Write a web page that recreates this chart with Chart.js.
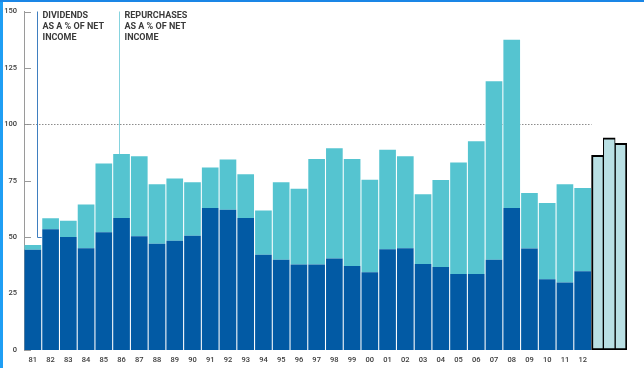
<!DOCTYPE html>
<html>
<head>
<meta charset="utf-8">
<script src="https://cdn.jsdelivr.net/npm/chart.js@4"></script>
<style>
  html, body { margin: 0; padding: 0; background: #fff; }
  #wrap { width: 644px; height: 368px; position: relative; }
</style>
</head>
<body>
<div id="wrap"><canvas id="chart" width="644" height="368"></canvas></div>
<script>
// data
const years = ['81','82','83','84','85','86','87','88','89','90','91','92','93','94','95','96',
  '97','98','99','00','01','02','03','04','05','06','07','08','09','10','11','12'];
const dividends = [44.4, 53.5, 50.1, 45.1, 52.2, 58.5, 50.4, 47.1, 48.4, 50.6, 62.9, 62.2, 58.5, 42.2, 40.0, 37.9,
  37.9, 40.6, 37.2, 34.4, 44.7, 45.1, 38.1, 36.8, 33.7, 33.7, 40.0, 62.9, 45.0, 31.3, 29.9, 34.9];
const repurchases = [2.1, 4.9, 7.2, 19.4, 30.4, 28.3, 35.5, 26.4, 27.6, 23.7, 18.0, 22.2, 19.4, 19.6, 34.3, 33.6,
  46.7, 48.8, 47.4, 41.0, 44.0, 40.8, 30.9, 38.5, 49.4, 58.8, 79.1, 74.6, 24.6, 33.8, 43.5, 36.9];
const forecast = [86.3, 94.0, 91.6];
const yTicks = [0, 25, 50, 75, 100, 125, 150];
const refLine = 100;

const DARK = '#025aa4';
const LIGHT = '#55c4d0';
const TEXT = '#3a3a3a';

// main axis: 32 years + 2 spare slots; fine axis is 1.5x denser, forecast bars sit in its last 3 slots
const mainLabels = years.concat(['', '']);
const fineLabels = Array.from({ length: mainLabels.length * 1.5 }, (_, i) => String(i));
const forecastData = Array(fineLabels.length - forecast.length).fill(null).concat(forecast);

const decorations = {
  id: 'decorations',
  beforeDraw(chart) {
    const { ctx, width, height } = chart;
    ctx.save();
    ctx.fillStyle = '#fff';
    ctx.fillRect(0, 0, width, height);
    ctx.restore();
  },
  beforeDatasetsDraw(chart) {
    const { ctx, chartArea, scales: { x, y } } = chart;
    const step = x.getPixelForValue(1) - x.getPixelForValue(0);
    ctx.save();
    // inward tick marks
    ctx.strokeStyle = '#9a9a9a';
    ctx.lineWidth = 1;
    yTicks.forEach(v => {
      const py = Math.round(y.getPixelForValue(v)) + 0.5;
      ctx.beginPath();
      ctx.moveTo(chartArea.left, py);
      ctx.lineTo(chartArea.left + 7, py);
      ctx.stroke();
    });
    // dotted 100% line
    const py = Math.round(y.getPixelForValue(refLine)) + 0.5;
    ctx.strokeStyle = '#8c8c8c';
    ctx.setLineDash([1.5, 1.5]);
    ctx.beginPath();
    ctx.moveTo(chartArea.left, py);
    ctx.lineTo(x.getPixelForValue(years.length - 1) + step / 2, py);
    ctx.stroke();
    ctx.setLineDash([]);

    // callout lines
    const top = y.getPixelForValue(150);
    const dx = Math.round(x.getPixelForValue(0) + step * 0.25) + 0.5;
    const dy = Math.round(y.getPixelForValue(50)) + 0.5;
    ctx.strokeStyle = '#3f7fc0';
    ctx.beginPath();
    ctx.moveTo(dx, top);
    ctx.lineTo(dx, dy);
    ctx.lineTo(x.getPixelForValue(0.5), dy);
    ctx.stroke();

    const rx = Math.round(x.getPixelForValue(5) - step * 0.14) + 0.5;
    ctx.strokeStyle = '#86d3de';
    ctx.beginPath();
    ctx.moveTo(rx, top);
    ctx.lineTo(rx, y.getPixelForValue(dividends[5] + repurchases[5]));
    ctx.stroke();

    // callout text
    ctx.fillStyle = TEXT;
    ctx.font = 'bold 9px Roboto';
    ctx.textBaseline = 'middle';
    ['DIVIDENDS', 'AS A % OF NET', 'INCOME'].forEach((t, i) => ctx.fillText(t, dx + 5, 15.5 + i * 11));
    ['REPURCHASES', 'AS A % OF NET', 'INCOME'].forEach((t, i) => ctx.fillText(t, rx + 5, 15.5 + i * 11));
    ctx.restore();
  },
  afterDraw(chart) {
    const { ctx, width, height } = chart;
    ctx.save();
    ctx.fillStyle = '#1f9ef4';
    ctx.fillRect(0, 0, 3, height);
    ctx.fillStyle = '#1a86e6';
    ctx.fillRect(0, 0, width, 2);
    ctx.restore();
  }
};

new Chart(document.getElementById('chart'), {
  type: 'bar',
  data: {
    labels: mainLabels,
    datasets: [
      { label: 'Dividends', data: dividends, backgroundColor: DARK, xAxisID: 'x', grouped: false,
        barPercentage: 0.94, categoryPercentage: 1 },
      { label: 'Repurchases', data: repurchases, backgroundColor: LIGHT, xAxisID: 'x', grouped: false,
        barPercentage: 0.94, categoryPercentage: 1 },
      { label: 'Forecast', data: forecastData, backgroundColor: '#b9e0e4', xAxisID: 'x2', grouped: false,
        borderColor: '#000', borderSkipped: false,
        borderWidth: (c) => ({ top: 2, bottom: 2,
          left: c.dataIndex === forecastData.length - forecast.length ? 2 : 1,
          right: c.dataIndex === forecastData.length - 1 ? 2 : 1 }),
        barPercentage: 1, categoryPercentage: 1 }
    ]
  },
  options: {
    responsive: false,
    animation: false,
    layout: { padding: { top: 10, right: 17, bottom: 0, left: 0 } },
    plugins: { legend: { display: false }, tooltip: { enabled: false } },
    scales: {
      x: {
        stacked: true,
        grid: { display: false, drawTicks: false },
        border: { display: false },
        ticks: { color: TEXT, font: { family: 'Roboto', size: 7.5, weight: '500' }, padding: 6,
          autoSkip: false, maxRotation: 0 },
        afterFit(s) { s.height = 18; }
      },
      x2: {
        display: false,
        labels: fineLabels,
        stacked: true
      },
      y: {
        stacked: true,
        min: 0, max: 150,
        afterBuildTicks(s) { s.ticks = yTicks.map(v => ({ value: v })); },
        grid: { display: false, drawTicks: false },
        border: { display: true, color: '#9a9a9a', width: 1 },
        ticks: { color: TEXT, font: { family: 'Roboto', size: 7.5, weight: '500' }, padding: 7 },
        afterFit(s) { s.width = 24; }
      }
    }
  },
  plugins: [decorations]
});
</script>
</body>
</html>
